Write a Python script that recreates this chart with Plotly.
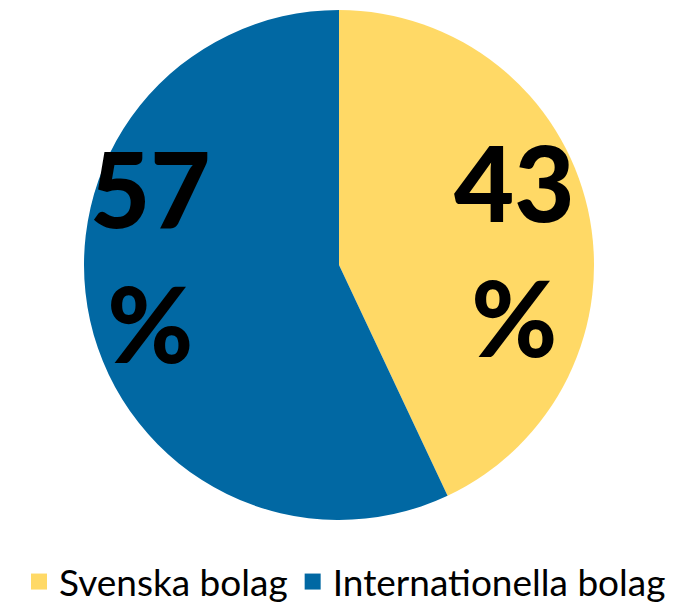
import plotly.graph_objects as go

labels = ["Svenska bolag", "Internationella bolag"]
values = [43, 57]
colors = ["#FFD966", "#0168A3"]

# The page body adds an 8px margin, so the figure is sized to fill the window exactly.
W, H, OFF = 672, 595, 8

def px(x):
    return (x - OFF) / W

def py(y):
    return 1 - (y - OFF) / H

# label placement for each slice's percentage text
label_x = [px(514), px(150)]
label_y = [py(249), py(255)]

fig = go.Figure()
fig.add_trace(go.Pie(
    labels=labels,
    values=values,
    marker=dict(colors=colors, line=dict(width=0)),
    sort=False,
    direction="clockwise",
    rotation=0,
    textinfo="none",
    hoverinfo="label+percent",
    showlegend=False,
    domain=dict(x=[px(84), px(594)], y=[py(520), py(10)]),
))

# legend entries with square markers
for lab, col in zip(labels, colors):
    fig.add_trace(go.Scatter(
        x=[None], y=[None], mode="markers", name=lab,
        marker=dict(symbol="square", size=19, color=col),
        showlegend=True, hoverinfo="skip",
    ))

for v, lx, ly in zip(values, label_x, label_y):
    fig.add_annotation(
        x=lx, y=ly, xref="paper", yref="paper",
        text=f"{v}<br>%", showarrow=False,
        xanchor="center", yanchor="middle", align="center",
        font=dict(family="Lato", size=104, color="black", weight=900),
    )

fig.update_layout(
    width=W, height=H,
    margin=dict(l=0, r=0, t=0, b=0, autoexpand=False),
    paper_bgcolor="white",
    plot_bgcolor="white",
    xaxis=dict(visible=False),
    yaxis=dict(visible=False),
    showlegend=True,
    legend=dict(orientation="h", x=px(345), xanchor="center", y=py(582), yanchor="middle",
                font=dict(family="Lato", size=37, color="black"),
                itemwidth=30, tracegroupgap=0, bgcolor="rgba(0,0,0,0)"),
)

fig.write_html("out.html")
